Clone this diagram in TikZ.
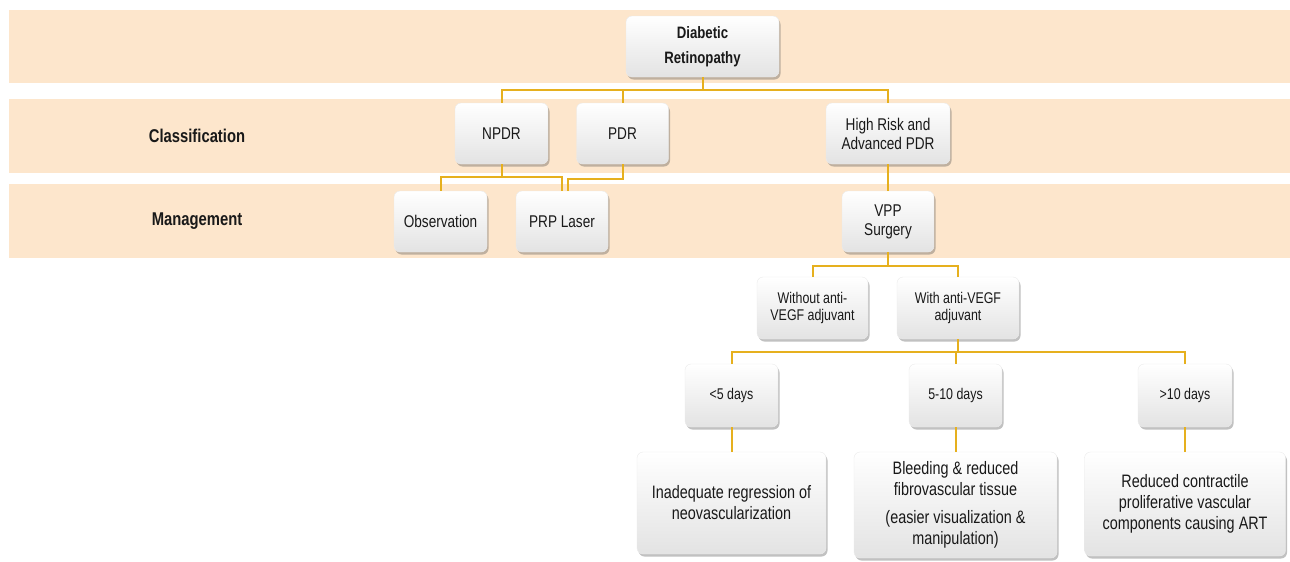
\documentclass[tikz,border=0pt]{standalone}
\usepackage{fontspec}
\setmainfont{Liberation Sans}[FakeStretch=0.8]
\usepackage{tikz}
\usetikzlibrary{shadows,calc}
\definecolor{bandcol}{RGB}{253,230,204}
\definecolor{linkcol}{RGB}{230,176,30}
\definecolor{txtcol}{RGB}{25,25,25}

\begin{document}
\begin{tikzpicture}[
x=1pt,y=-1pt,
Bands/.style={fill=bandcol,draw=none},
MyBox/.style={rounded corners=6pt,top color=white,bottom color=black!11,draw=black!8,
  drop shadow={shadow xshift=1.5pt,shadow yshift=-2.5pt,opacity=0.35,fill=black!70},
  align=center,inner sep=2pt,text=txtcol},
TopFont/.style={font=\fontsize{17}{19}\selectfont},
SmallFont/.style={font=\fontsize{15.5}{17}\selectfont},
BigFont/.style={font=\fontsize{18}{21}\selectfont},
RowLabel/.style={font=\bfseries\fontsize{18.5}{20}\selectfont,text=txtcol},
Links/.style={draw=linkcol,line width=2pt}
]
\useasboundingbox (0,0) rectangle (1290,562);

% background bands
\fill[Bands] (9,10) rectangle (1290,83);
\fill[Bands] (9,99) rectangle (1290,173);
\fill[Bands] (9,184) rectangle (1290,258);

\node[RowLabel] (cls) at (197,136) {Classification};
\node[RowLabel] (mgt) at (197,221) {Management};

% top level
\node[MyBox,minimum width=153pt,minimum height=61pt,font=\bfseries\fontsize{16.5}{25}\selectfont]
  (dr) at (702.5,46.5) {Diabetic\\Retinopathy};

% classification
\node[MyBox,TopFont,minimum width=93pt,minimum height=61pt] (npdr) at (501.5,133.5) {NPDR};
\node[MyBox,TopFont,minimum width=92pt,minimum height=61pt] (pdr) at (622.5,133.5) {PDR};
\node[MyBox,TopFont,minimum width=124pt,minimum height=61pt] (hr) at (888,133.5) {High Risk and\\Advanced PDR};

% management
\node[MyBox,TopFont,minimum width=93pt,minimum height=61pt] (obs) at (440.5,221.5) {Observation};
\node[MyBox,TopFont,minimum width=92pt,minimum height=61pt] (prp) at (562,221.5) {PRP Laser};
\node[MyBox,TopFont,minimum width=92pt,minimum height=61pt] (vpp) at (888,221.5) {VPP\\Surgery};

% adjuvant
\node[MyBox,SmallFont,minimum width=111pt,minimum height=62pt] (wo) at (812.5,308) {Without anti-\\VEGF adjuvant};
\node[MyBox,SmallFont,minimum width=122pt,minimum height=62pt] (wi) at (958,308) {With anti-VEGF\\adjuvant};

% timing
\node[MyBox,SmallFont,minimum width=93pt,minimum height=63pt] (d1) at (731.5,395.5) {<5 days};
\node[MyBox,SmallFont,minimum width=93pt,minimum height=63pt] (d2) at (955.5,395.5) {5-10 days};
\node[MyBox,SmallFont,minimum width=94pt,minimum height=63pt] (d3) at (1185,395.5) {>10 days};

% outcomes
\node[MyBox,BigFont,minimum width=189pt,minimum height=102pt] (r1) at (731.5,503) {Inadequate regression of\\neovascularization};
\node[MyBox,BigFont,minimum width=203pt,minimum height=106pt] (r2) at (955.5,505)
  {Bleeding \& reduced\\fibrovascular tissue\\[7pt](easier visualization \&\\manipulation)};
\node[MyBox,BigFont,minimum width=201pt,minimum height=104pt] (r3) at (1185,504)
  {Reduced contractile\\proliferative vascular\\components causing ART};

% connectors
\draw[Links] (dr.south) -- ++(0,12.5) -| (npdr.north);
\draw[Links] (dr.south) -- ++(0,12.5) -| (pdr.north);
\draw[Links] (dr.south) -- ++(0,12.5) -| (hr.north);

\draw[Links] (npdr.south) -- ++(0,13) -| (obs.north);
\draw[Links] (npdr.south) -- ++(0,13) -| (prp.north);
\draw[Links] (pdr.south) -- ++(0,15) -| ([xshift=6pt]prp.north);

\draw[Links] (hr.south) -- (vpp.north);
\draw[Links] (vpp.south) -- ++(0,14) -| (wo.north);
\draw[Links] (vpp.south) -- ++(0,14) -| (wi.north);

\draw[Links] (wi.south) -- ++(0,13) -| (d1.north);
\draw[Links] (wi.south) -- ++(0,13) -| (d2.north);
\draw[Links] (wi.south) -- ++(0,13) -| (d3.north);

\draw[Links] (d1.south) -- (r1.north);
\draw[Links] (d2.south) -- (r2.north);
\draw[Links] (d3.south) -- (r3.north);

\end{tikzpicture}
\end{document}
